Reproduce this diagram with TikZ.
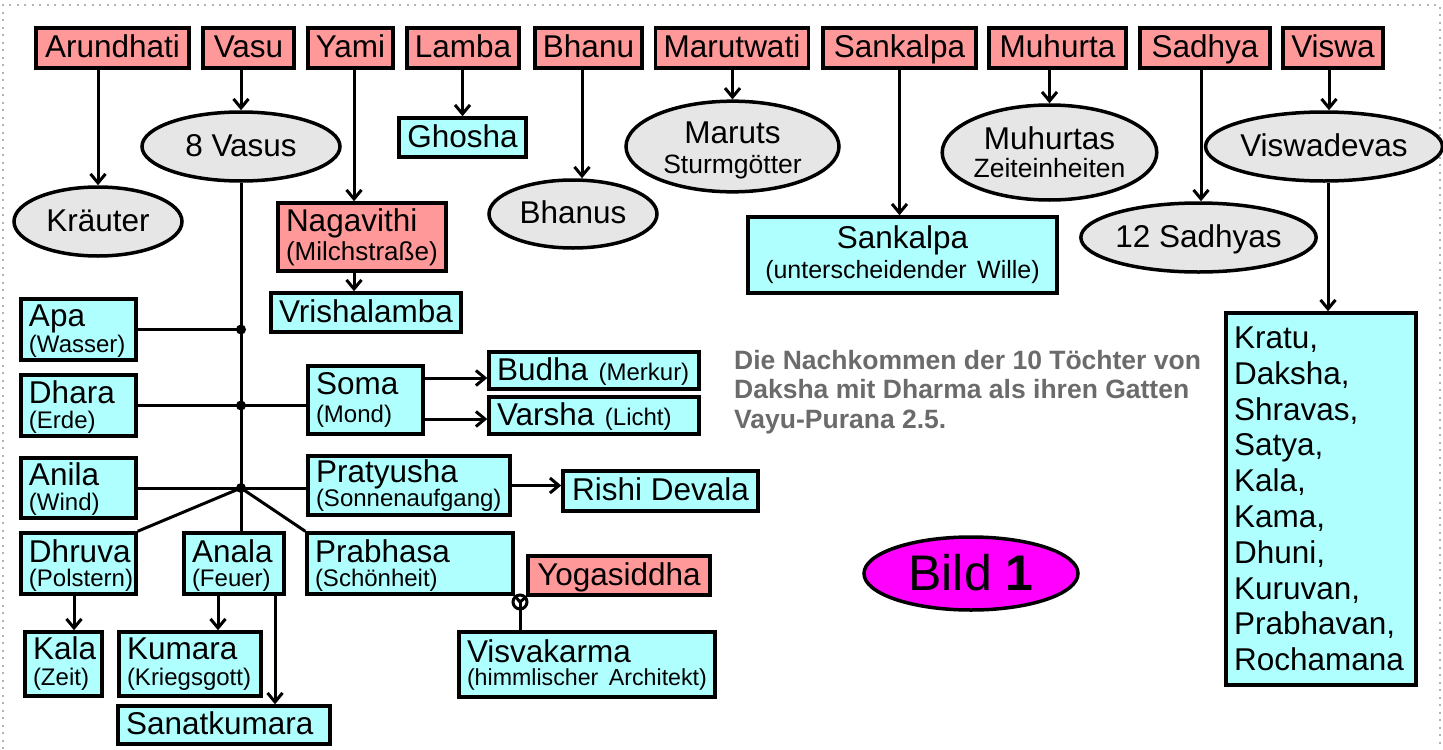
\documentclass[tikz,border=0pt]{standalone}
\usepackage{fontspec}
\setmainfont{Liberation Sans}
\usetikzlibrary{arrows.meta,shapes.geometric,calc}
\definecolor{redf}{HTML}{FF9999}
\definecolor{cyf}{HTML}{B0FFFF}
\definecolor{ellf}{HTML}{E6E6E6}
\definecolor{ttl}{HTML}{6B6B6B}
\definecolor{brd}{HTML}{B4B4B4}
\definecolor{mag}{HTML}{FF00FF}
\newcommand\fz[2]{\fontsize{#1bp}{#2bp}\selectfont}
\begin{document}
\begin{tikzpicture}[x=1bp,y=-1bp,
 box/.style={draw, line width=3.5bp, inner xsep=8bp, inner ysep=0pt, font=\fz{31.5}{36}},
 rbox/.style={box, fill=redf},
 cbox/.style={box, fill=cyf},
 ell/.style={draw, ellipse, line width=3.5bp, fill=ellf, inner sep=0pt, font=\fz{31.5}{36}, align=center},
 one/.style={text height=23bp, text depth=4bp},
 two/.style={font=\fz{31.5}{#1}},
 ln/.style={line width=3bp},
 arr/.style={ln, -{Straight Barb[length=9bp,width=15bp]}},
 wh/.style 2 args={minimum width=#1bp, minimum height=#2bp},
]
\useasboundingbox (0,0) rectangle (1443,749);
\draw[brd, line width=2bp, dash pattern=on 2bp off 5.5bp] (3,749) -- (3,5) -- (1440,5) -- (1440,749);

% top row
\node[rbox, one, wh={153}{40}] (Arun) at (112.5,48) {Arundhati};
\node[rbox, one, wh={91}{40}] (Vasu) at (248.5,48) {Vasu};
\node[rbox, one, wh={83}{40}] (Yami) at (350.5,48) {Yami};
\node[rbox, one, wh={112}{40}] (Lamba) at (463,48) {Lamba};
\node[rbox, one, wh={107}{40}] (Bhanu) at (588.5,48) {Bhanu};
\node[rbox, one, wh={152}{40}] (Marut) at (732,48) {Marutwati};
\node[rbox, one, wh={153}{40}] (Sank) at (899.5,48) {Sankalpa};
\node[rbox, one, wh={137}{40}] (Muhurta) at (1057.5,48) {Muhurta};
\node[rbox, one, wh={130}{40}] (Sadhya) at (1205,48) {Sadhya};
\node[rbox, one, wh={100}{40}] (Viswa) at (1333,48) {Viswa};

% ellipses
\node[ell, one, wh={168}{69}] (kr) at (98,221.5) {Kräuter};
\node[ell, one, wh={198}{69}] (v8) at (241,146.5) {8 Vasus};
\node[ell, one, wh={168}{68}] (Bhanus) at (573,214) {Bhanus};
\node[ell, wh={213}{83}, font=\fz{31.5}{30}] (Maruts) at (732.5,146.5) {\rule{0pt}{28.6bp}Maruts\\\fz{26.5}{30}Sturmgötter};
\node[ell, wh={207}{95}, font=\fz{31.5}{28}] (Muh) at (1049.5,152.5) {Muhurtas\\\fz{26.5}{28}Zeiteinheiten};
\node[ell, one, wh={211}{69}] (S12) at (1198.5,237.5) {12 Sadhyas};
\node[ell, one, wh={208}{69}] (VD) at (1324,146.5) {Viswadevas};
\node[draw, ellipse, line width=3.5bp, fill=mag, inner sep=0pt, wh={214}{73}, font=\fz{50}{56}, text height=36bp, text depth=3bp] (Bild) at (971,573.5) {Bild \textbf{1}};

% boxes
\node[cbox, one, wh={127}{39}] (Gho) at (462.5,137.5) {Ghosha};
\node[rbox, wh={168}{68}, text width=152bp, align=left, two=29] (Nag) at (362,237) {Nagavithi\\\fz{26}{29}(Milchstraße)};
\node[cbox, one, wh={190}{39}] (Vri) at (366,312.5) {Vrishalamba};
\node[cbox, wh={309}{76}, text width=293bp, align=center, two=30] (SBox) at (902.5,255) {Sankalpa\\\fz{25}{30}(unterscheidender Wille)};
\node[cbox, wh={115}{61}, text width=99bp, align=left, two=26] (Apa) at (78.5,329.5) {\rule{0pt}{25bp}Apa\\\fz{24}{26}(Wasser)};
\node[cbox, wh={115}{61}, text width=99bp, align=left, two=25] (Dhara) at (78.5,405.5) {\rule{0pt}{25bp}Dhara\\\fz{24}{25}(Erde)};
\node[cbox, wh={115}{68}, text width=99bp, align=left, two=28] (Soma) at (365.5,400) {Soma\\\fz{24}{28}(Mond)};
\node[cbox, one, wh={210}{37}, text width=194bp, align=left] (Budha) at (594,370.5) {Budha {\fz{24}{26}(Merkur)}};
\node[cbox, one, wh={210}{37}, text width=194bp, align=left] (Varsha) at (594,415.5) {Varsha {\fz{24}{26}(Licht)}};
\node[cbox, wh={115}{60}, text width=99bp, align=left, two=25] (Anila) at (78.5,488) {\rule{0pt}{25bp}Anila\\\fz{24}{25}(Wind)};
\node[cbox, wh={202}{59}, text width=186bp, align=left, two=24] (Prat) at (409,485.5) {Pratyusha\\\fz{24}{24}\mbox{(Sonnenaufgang)}};
\node[cbox, one, wh={195}{40}] (Rishi) at (660.5,491) {Rishi Devala};
\node[cbox, wh={115}{61}, text width=99bp, align=left, two=24] (Dhruva) at (78.5,563.5) {\rule{0pt}{26bp}Dhruva\\\fz{24}{24}\mbox{(Polstern)}};
\node[cbox, wh={100}{61}, text width=84bp, align=left, two=24] (Anala) at (234,563.5) {\rule{0pt}{26bp}Anala\\\fz{24}{24}(Feuer)};
\node[cbox, wh={206}{61}, text width=190bp, align=left, two=24] (Prab) at (410,563.5) {\rule{0pt}{26bp}Prabhasa\\\fz{24}{24}(Schönheit)};
\node[rbox, one, wh={182}{39}] (Yoga) at (619,575.5) {Yogasiddha};
\node[cbox, wh={77}{64}, text width=61bp, align=left, two=26] (Kala) at (63.5,664) {Kala\\\fz{24}{26}(Zeit)};
\node[cbox, wh={142}{64}, text width=126bp, align=left, two=26] (Kum) at (190,664) {Kumara\\\fz{24}{26}\mbox{(Kriegsgott)}};
\node[cbox, one, wh={212}{38}, text width=196bp, align=left] (San) at (224,725) {Sanatkumara};
\node[cbox, wh={256}{65}, text width=240bp, align=left, two=23] (Visv) at (587,664.5) {Visvakarma\\\fz{23.2}{23}\mbox{(himmlischer Architekt)}};
\node[cbox, wh={190}{372}, text width=174bp, align=left, font=\fz{31.5}{35.8}] (List) at (1321,499) {Kratu,\\Daksha,\\Shravas,\\Satya,\\Kala,\\Kama,\\Dhuni,\\Kuruvan,\\Prabhavan,\\Rochamana};

% title
\node[anchor=north west, inner sep=0pt, align=left, text=ttl, font=\fz{26.5}{29.5}\bfseries] (title) at (734,350) {Die Nachkommen der 10 Töchter von\\Daksha mit Dharma als ihren Gatten\\Vayu-Purana 2.5.};

% top connectors
\draw[arr] (kr.north |- Arun.south) -- (kr.north);
\draw[arr] (v8.north |- Vasu.south) -- (v8.north);
\coordinate (ya) at ([xshift=3.5bp]Yami.south);
\draw[arr] (ya) -- (ya |- Nag.north);
\draw[arr] (Gho.north |- Lamba.south) -- (Gho.north);
\coordinate (ba) at ([xshift=-6.5bp]Bhanu.south);
\draw[arr] (ba) -- (ba |- Bhanus.north);
\draw[arr] (Maruts.north |- Marut.south) -- (Maruts.north);
\draw[arr] (Sank.south) -- (Sank.south |- SBox.north);
\draw[arr] (Muh.north |- Muhurta.south) -- (Muh.north);
\coordinate (sa) at ([xshift=-4bp]Sadhya.south);
\draw[arr] (sa) -- (sa |- S12.north);
\coordinate (vi) at ([xshift=-4bp]Viswa.south);
\draw[arr] (vi) -- (vi |- VD.north);
\coordinate (vd) at ([xshift=4bp]VD.south);
\draw[arr] (vd) -- (vd |- List.north);
\draw[arr] (ya |- Nag.south) -- (ya |- Vri.north);

% tree
\draw[ln] (v8.south) -- (v8.south |- Anala.north);
\coordinate (j1) at (v8.south |- Apa.east);
\coordinate (j2) at (v8.south |- Dhara.east);
\coordinate (j3) at (v8.south |- Anila.east);
\draw[ln] (Apa.east) -- (j1);
\draw[ln] (Dhara.east) -- (Dhara.east -| Soma.west);
\draw[ln] (Anila.east) -- (Anila.east -| Prat.west);
\draw[ln] (Dhruva.north east) -- (j3) -- (Prab.north west);
\fill (j1) circle (5bp);
\fill (j2) circle (5bp);
\fill (j3) circle (5bp);
\coordinate (s1) at ([yshift=22bp]Soma.east);
\draw[arr] (s1) -- (s1 -| Budha.west);
\coordinate (s2) at ([yshift=-19bp]Soma.east);
\draw[arr] (s2) -- (s2 -| Varsha.west);
\draw[arr] (Prat.east) -- (Prat.east -| Rishi.west);
\coordinate (dk) at ([xshift=-4.5bp]Dhruva.south);
\draw[arr] (dk) -- (dk |- Kala.north);
\coordinate (ak) at ([xshift=-16bp]Anala.south);
\draw[arr] (ak) -- (ak |- Kum.north);
\coordinate (as) at ([xshift=41bp]Anala.south);
\draw[arr] (as) -- (as |- San.north);
\coordinate (mc) at (520,602);
\draw[ln] (Prab.south east) -- (mc) -- (Yoga.south west);
\draw[ln] (mc) circle (7bp);
\draw[ln] (mc) -- (mc |- Visv.north);
\end{tikzpicture}
\end{document}
